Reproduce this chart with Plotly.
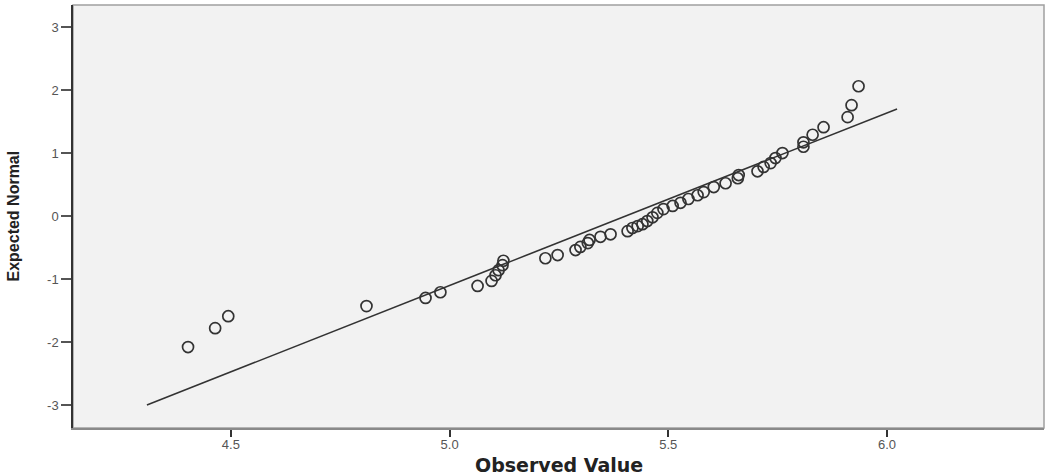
import plotly.graph_objects as go

observed = [4.402, 4.464, 4.494, 4.810, 4.945, 4.979, 5.064, 5.096, 5.105, 5.112,
            5.121, 5.123, 5.219, 5.247, 5.288, 5.299, 5.316, 5.320, 5.345, 5.368,
            5.407, 5.418, 5.430, 5.441, 5.452, 5.464, 5.475, 5.489, 5.510, 5.528,
            5.546, 5.567, 5.581, 5.604, 5.631, 5.659, 5.661, 5.704, 5.718, 5.734,
            5.745, 5.761, 5.809, 5.809, 5.830, 5.855, 5.910, 5.919, 5.935]
expected = [-2.08, -1.78, -1.59, -1.43, -1.30, -1.21, -1.11, -1.03, -0.94, -0.86,
            -0.78, -0.71, -0.67, -0.62, -0.54, -0.49, -0.43, -0.38, -0.33, -0.29,
            -0.24, -0.19, -0.16, -0.13, -0.08, -0.02, 0.05, 0.11, 0.16, 0.21,
            0.27, 0.33, 0.38, 0.46, 0.52, 0.60, 0.65, 0.71, 0.78, 0.84,
            0.92, 1.00, 1.10, 1.17, 1.29, 1.41, 1.57, 1.76, 2.06]

# Reference line endpoints
line_x = [4.308, 6.023]
line_y = [-3.0, 1.70]

x_ticks = [4.5, 5.0, 5.5, 6.0]
x_tick_labels = ["4.5", "5.0", "5.5", "6.0"]
y_ticks = [-3, -2, -1, 0, 1, 2, 3]
y_tick_labels = ["-3", "-2", "-1", "0", "1", "2", "3"]

x_title = "Observed Value"
y_title = "Expected Normal"

fig = go.Figure()
fig.add_trace(go.Scatter(x=line_x, y=line_y, mode="lines",
                         line=dict(color="#333333", width=1.6),
                         showlegend=False, hoverinfo="skip"))
fig.add_trace(go.Scatter(x=observed, y=expected, mode="markers",
                         marker=dict(symbol="circle-open", size=11,
                                     color="#333333", line=dict(width=1.7)),
                         showlegend=False))

tick_font = dict(family="Liberation Sans, Arial, sans-serif", size=13, color="#555555")

fig.update_layout(
    width=1048, height=476,
    margin=dict(l=73, r=4, t=5, b=48),
    paper_bgcolor="white",
    plot_bgcolor="#f2f2f2",
    xaxis=dict(range=[4.139, 6.359], tickvals=x_ticks, ticktext=x_tick_labels,
               showgrid=False, zeroline=False, ticks="outside", ticklen=7,
               tickwidth=1.5, tickcolor="#333333", tickfont=tick_font,
               ticklabelstandoff=-4,
               showline=True, linecolor="#8a8a8a", linewidth=2,
               automargin=False),
    yaxis=dict(range=[-3.365, 3.35], tickvals=y_ticks, ticktext=y_tick_labels,
               showgrid=False, zeroline=False, ticks="outside", ticklen=10,
               tickwidth=1.5, tickcolor="#555555", tickfont=tick_font,
               showline=True, linecolor="#333333", linewidth=1.5,
               automargin=False),
    shapes=[dict(type="rect", xref="paper", yref="paper", x0=0, y0=0, x1=1, y1=1,
                 line=dict(color="#a0a0a0", width=1.5), fillcolor="rgba(0,0,0,0)",
                 layer="below")],
    annotations=[
        dict(text=x_title, xref="paper", yref="paper", x=0.5, y=0,
             yshift=-37, xanchor="center", yanchor="middle", showarrow=False,
             font=dict(family="DejaVu Sans, Verdana, sans-serif", size=19,
                       color="#222222", weight="bold")),
        dict(text=y_title, xref="paper", yref="paper", x=0, y=0.5,
             xshift=-60, xanchor="center", yanchor="middle", showarrow=False,
             textangle=-90,
             font=dict(family="Liberation Sans Narrow, Arial Narrow, Liberation Sans, sans-serif",
                       size=16, color="#222222", weight="bold")),
    ],
)

fig.write_html("out.html", config={"displayModeBar": False},
               post_script="document.body.style.margin='0';document.body.style.overflow='hidden';")
